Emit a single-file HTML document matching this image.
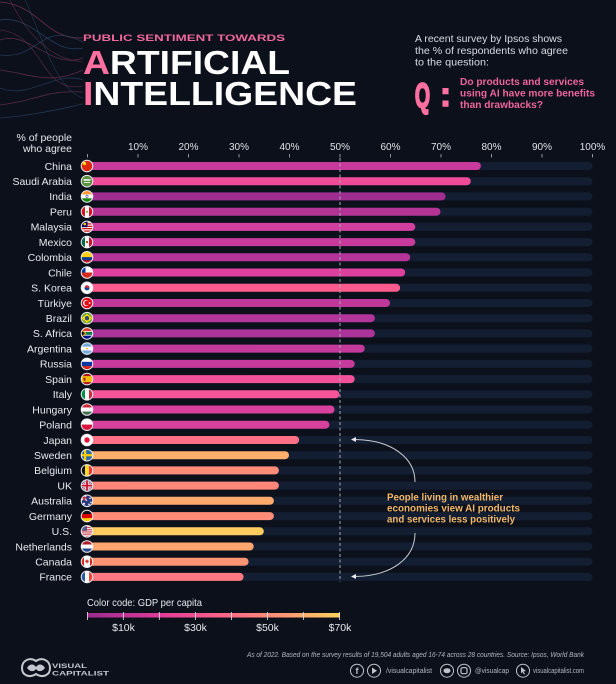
<!DOCTYPE html>
<html><head><meta charset="utf-8"><style>
html,body{margin:0;padding:0;background:#0b101b;}
svg{display:block;}
text{font-family:"Liberation Sans","DejaVu Sans",sans-serif;}
</style></head><body>
<svg width="616" height="684" viewBox="0 0 616 684" xmlns="http://www.w3.org/2000/svg">
<defs>
<clipPath id="fc"><circle cx="0" cy="0" r="5.7"/></clipPath>
<linearGradient id="gdp" x1="0" x2="1" y1="0" y2="0">
<stop offset="0" stop-color="#9a2a8e"/>
<stop offset="0.3" stop-color="#e23c98"/>
<stop offset="0.55" stop-color="#ff6688"/>
<stop offset="0.8" stop-color="#ff9c72"/>
<stop offset="1" stop-color="#ffd45c"/>
</linearGradient>
</defs>
<rect width="616" height="684" fill="#0b101b"/>

<!-- decorative curves -->
<g fill="none" stroke-width="0.8">
<path d="M0,2 C40,5 45,40 83,38" stroke="#a8456e" opacity="0.6"/>
<path d="M0,20 C35,15 50,55 83,48" stroke="#2d4569" opacity="0.8"/>
<path d="M0,40 C30,30 50,70 83,58" stroke="#a8456e" opacity="0.5"/>
<path d="M0,55 C40,60 40,20 83,42" stroke="#2d4569" opacity="0.7"/>
<path d="M0,70 C35,75 50,85 83,70" stroke="#a8456e" opacity="0.5"/>
<path d="M0,88 C30,100 55,70 83,80" stroke="#2d4569" opacity="0.7"/>
<path d="M0,105 C40,100 45,90 83,92" stroke="#a8456e" opacity="0.5"/>
<path d="M0,118 C35,115 55,110 83,104" stroke="#2d4569" opacity="0.7"/>
<path d="M10,0 C30,40 55,60 83,62" stroke="#a8456e" opacity="0.4"/>
<path d="M25,0 C40,30 55,90 83,98" stroke="#2d4569" opacity="0.6"/>
<path d="M0,30 C45,35 40,95 83,86" stroke="#a8456e" opacity="0.4"/>
</g>

<!-- title -->
<text x="83" y="41" font-size="9.5" font-weight="bold" fill="#f0689b" textLength="202" lengthAdjust="spacingAndGlyphs">PUBLIC SENTIMENT TOWARDS</text>
<text x="83" y="74" font-family="DejaVu Sans" font-size="33" font-weight="bold" fill="#ffffff" textLength="207" lengthAdjust="spacingAndGlyphs"><tspan fill="#ff6fa0">A</tspan>RTIFICIAL</text>
<text x="83" y="105" font-family="DejaVu Sans" font-size="33" font-weight="bold" fill="#ffffff" textLength="274" lengthAdjust="spacingAndGlyphs"><tspan fill="#ff6fa0">I</tspan>NTELLIGENCE</text>

<!-- header right -->
<g font-size="10.5" fill="#dadde3">
<text x="415" y="42" textLength="147" lengthAdjust="spacingAndGlyphs">A recent survey by Ipsos shows</text>
<text x="415" y="54" textLength="153" lengthAdjust="spacingAndGlyphs">the % of respondents who agree</text>
<text x="415" y="65.5" textLength="74" lengthAdjust="spacingAndGlyphs">to the question:</text>
</g>
<text x="415" y="107" font-size="34" font-weight="bold" fill="#ff6fa0" stroke="#ff6fa0" stroke-width="2.2" textLength="15" lengthAdjust="spacingAndGlyphs">Q</text>
<text x="440" y="106" font-size="34" font-weight="bold" fill="#ff6fa0" stroke="#ff6fa0" stroke-width="1.5" textLength="11" lengthAdjust="spacingAndGlyphs">:</text>
<g font-size="10" font-weight="bold" fill="#f0649b">
<text x="460" y="85" textLength="124" lengthAdjust="spacingAndGlyphs">Do products and services</text>
<text x="460" y="96.5" textLength="135" lengthAdjust="spacingAndGlyphs">using AI have more benefits</text>
<text x="460" y="108" textLength="83" lengthAdjust="spacingAndGlyphs">than drawbacks?</text>
</g>

<!-- axis header -->
<g font-size="10.5" fill="#e6e8ec" text-anchor="end">
<text x="72" y="141">% of people</text>
<text x="72" y="152">who agree</text>
</g>
<g font-size="10" fill="#dfe2e6" text-anchor="middle">
<text x="138" y="150">10%</text>
<text x="188.5" y="150">20%</text>
<text x="239" y="150">30%</text>
<text x="289.5" y="150">40%</text>
<text x="340" y="150">50%</text>
<text x="390.5" y="150">60%</text>
<text x="441" y="150">70%</text>
<text x="491.5" y="150">80%</text>
<text x="542" y="150">90%</text>
<text x="592.5" y="150">100%</text>
</g>
<g stroke="#8d939c" stroke-width="1">
<line x1="87.5" y1="154" x2="87.5" y2="157.5"/>
<line x1="138" y1="154" x2="138" y2="157.5"/>
<line x1="188.5" y1="154" x2="188.5" y2="157.5"/>
<line x1="239" y1="154" x2="239" y2="157.5"/>
<line x1="289.5" y1="154" x2="289.5" y2="157.5"/>
<line x1="340" y1="154" x2="340" y2="157.5"/>
<line x1="390.5" y1="154" x2="390.5" y2="157.5"/>
<line x1="441" y1="154" x2="441" y2="157.5"/>
<line x1="491.5" y1="154" x2="491.5" y2="157.5"/>
<line x1="542" y1="154" x2="542" y2="157.5"/>
<line x1="592.5" y1="154" x2="592.5" y2="157.5"/>
</g>

<!-- rows -->
<g font-size="10.5" fill="#e8eaee" text-anchor="end">
<g transform="translate(0,166)"><text x="72" y="3.8">China</text><rect x="87" y="-4" width="505.5" height="8" rx="4" fill="#131e33"/><rect x="87" y="-4" width="393.9" height="8" rx="4" fill="#c9399b"/>
<g transform="translate(87,0)"><g clip-path="url(#fc)"><rect x="-6" y="-6" width="12" height="12" fill="#de2910"/><circle cx="-2.5" cy="-2.5" r="1.6" fill="#ffde00"/></g><circle r="5.8" fill="none" stroke="#eceef2" stroke-width="1"/></g></g>

<g transform="translate(0,181.2)"><text x="72" y="3.8">Saudi Arabia</text><rect x="87" y="-4" width="505.5" height="8" rx="4" fill="#131e33"/><rect x="87" y="-4" width="383.8" height="8" rx="4" fill="#f24a9b"/>
<g transform="translate(87,0)"><g clip-path="url(#fc)"><rect x="-6" y="-6" width="12" height="12" fill="#5a9240"/><rect x="-3.5" y="-2" width="7" height="1.5" fill="#fff"/><rect x="-3" y="1" width="6" height="0.8" fill="#fff"/></g><circle r="5.8" fill="none" stroke="#eceef2" stroke-width="1"/></g></g>

<g transform="translate(0,196.4)"><text x="72" y="3.8">India</text><rect x="87" y="-4" width="505.5" height="8" rx="4" fill="#131e33"/><rect x="87" y="-4" width="358.6" height="8" rx="4" fill="#a02d90"/>
<g transform="translate(87,0)"><g clip-path="url(#fc)"><rect x="-6" y="-6" width="12" height="4" fill="#ff9933"/><rect x="-6" y="-2" width="12" height="4" fill="#fff"/><rect x="-6" y="2" width="12" height="4" fill="#138808"/><circle r="1.2" fill="none" stroke="#000080" stroke-width="0.5"/></g><circle r="5.8" fill="none" stroke="#eceef2" stroke-width="1"/></g></g>

<g transform="translate(0,211.7)"><text x="72" y="3.8">Peru</text><rect x="87" y="-4" width="505.5" height="8" rx="4" fill="#131e33"/><rect x="87" y="-4" width="353.5" height="8" rx="4" fill="#b43495"/>
<g transform="translate(87,0)"><g clip-path="url(#fc)"><rect x="-6" y="-6" width="4" height="12" fill="#d91023"/><rect x="-2" y="-6" width="4" height="12" fill="#fff"/><rect x="2" y="-6" width="4" height="12" fill="#d91023"/><circle r="1" fill="#7a9a3a"/></g><circle r="5.8" fill="none" stroke="#eceef2" stroke-width="1"/></g></g>

<g transform="translate(0,226.9)"><text x="72" y="3.8">Malaysia</text><rect x="87" y="-4" width="505.5" height="8" rx="4" fill="#131e33"/><rect x="87" y="-4" width="328.3" height="8" rx="4" fill="#d23f9e"/>
<g transform="translate(87,0)"><g clip-path="url(#fc)"><rect x="-6" y="-6" width="12" height="12" fill="#fff"/><rect x="-6" y="-6" width="12" height="1.2" fill="#cc0001"/><rect x="-6" y="-3.6" width="12" height="1.2" fill="#cc0001"/><rect x="-6" y="-1.2" width="12" height="1.2" fill="#cc0001"/><rect x="-6" y="1.2" width="12" height="1.2" fill="#cc0001"/><rect x="-6" y="3.6" width="12" height="1.2" fill="#cc0001"/><rect x="-6" y="-6" width="6.5" height="6.3" fill="#010066"/><circle cx="-2.2" cy="-2.8" r="1.3" fill="#ffcc00"/></g><circle r="5.8" fill="none" stroke="#eceef2" stroke-width="1"/></g></g>

<g transform="translate(0,242.1)"><text x="72" y="3.8">Mexico</text><rect x="87" y="-4" width="505.5" height="8" rx="4" fill="#131e33"/><rect x="87" y="-4" width="328.3" height="8" rx="4" fill="#c83b9c"/>
<g transform="translate(87,0)"><g clip-path="url(#fc)"><rect x="-6" y="-6" width="4" height="12" fill="#006847"/><rect x="-2" y="-6" width="4" height="12" fill="#fff"/><rect x="2" y="-6" width="4" height="12" fill="#ce1126"/><circle r="1.2" fill="#8c5a2b"/></g><circle r="5.8" fill="none" stroke="#eceef2" stroke-width="1"/></g></g>

<g transform="translate(0,257.3)"><text x="72" y="3.8">Colombia</text><rect x="87" y="-4" width="505.5" height="8" rx="4" fill="#131e33"/><rect x="87" y="-4" width="323.2" height="8" rx="4" fill="#b5349a"/>
<g transform="translate(87,0)"><g clip-path="url(#fc)"><rect x="-6" y="-6" width="12" height="6" fill="#fcd116"/><rect x="-6" y="0" width="12" height="3" fill="#003893"/><rect x="-6" y="3" width="12" height="3" fill="#ce1126"/></g><circle r="5.8" fill="none" stroke="#eceef2" stroke-width="1"/></g></g>

<g transform="translate(0,272.5)"><text x="72" y="3.8">Chile</text><rect x="87" y="-4" width="505.5" height="8" rx="4" fill="#131e33"/><rect x="87" y="-4" width="318.2" height="8" rx="4" fill="#de409d"/>
<g transform="translate(87,0)"><g clip-path="url(#fc)"><rect x="-6" y="-6" width="12" height="6" fill="#fff"/><rect x="-6" y="0" width="12" height="6" fill="#d52b1e"/><rect x="-6" y="-6" width="4.5" height="6" fill="#0039a6"/></g><circle r="5.8" fill="none" stroke="#eceef2" stroke-width="1"/></g></g>

<g transform="translate(0,287.8)"><text x="72" y="3.8">S. Korea</text><rect x="87" y="-4" width="505.5" height="8" rx="4" fill="#131e33"/><rect x="87" y="-4" width="313.1" height="8" rx="4" fill="#ff5b8c"/>
<g transform="translate(87,0)"><g clip-path="url(#fc)"><rect x="-6" y="-6" width="12" height="12" fill="#fff"/><circle r="2.5" fill="#cd2e3a"/><path d="M-2.5,0 A2.5,2.5 0 0,0 2.5,0 Z" fill="#0047a0"/><rect x="-5" y="-4.5" width="1.5" height="1" fill="#000"/><rect x="3.5" y="3.5" width="1.5" height="1" fill="#000"/></g><circle r="5.8" fill="none" stroke="#eceef2" stroke-width="1"/></g></g>

<g transform="translate(0,303)"><text x="72" y="3.8">Türkiye</text><rect x="87" y="-4" width="505.5" height="8" rx="4" fill="#131e33"/><rect x="87" y="-4" width="303" height="8" rx="4" fill="#c0379a"/>
<g transform="translate(87,0)"><g clip-path="url(#fc)"><rect x="-6" y="-6" width="12" height="12" fill="#e30a17"/><circle cx="-1" r="3" fill="#fff"/><circle cx="-0.2" r="2.4" fill="#e30a17"/><circle cx="2.6" r="0.9" fill="#fff"/></g><circle r="5.8" fill="none" stroke="#eceef2" stroke-width="1"/></g></g>

<g transform="translate(0,318.2)"><text x="72" y="3.8">Brazil</text><rect x="87" y="-4" width="505.5" height="8" rx="4" fill="#131e33"/><rect x="87" y="-4" width="287.9" height="8" rx="4" fill="#b3349a"/>
<g transform="translate(87,0)"><g clip-path="url(#fc)"><rect x="-6" y="-6" width="12" height="12" fill="#6aa03a"/><polygon points="0,-4.5 5.5,0 0,4.5 -5.5,0" fill="#ffdf00"/><circle r="2.2" fill="#2a4a8a"/></g><circle r="5.8" fill="none" stroke="#eceef2" stroke-width="1"/></g></g>

<g transform="translate(0,333.4)"><text x="72" y="3.8">S. Africa</text><rect x="87" y="-4" width="505.5" height="8" rx="4" fill="#131e33"/><rect x="87" y="-4" width="287.9" height="8" rx="4" fill="#ac3399"/>
<g transform="translate(87,0)"><g clip-path="url(#fc)"><rect x="-6" y="-6" width="12" height="6" fill="#e03c31"/><rect x="-6" y="0" width="12" height="6" fill="#001489"/><rect x="-6" y="-2.2" width="12" height="4.4" fill="#fff"/><rect x="-6" y="-1.4" width="12" height="2.8" fill="#007a4d"/><polygon points="-6,-4.5 -0.5,0 -6,4.5" fill="#ffb612"/><polygon points="-6,-3.2 -2,0 -6,3.2" fill="#000"/></g><circle r="5.8" fill="none" stroke="#eceef2" stroke-width="1"/></g></g>

<g transform="translate(0,348.6)"><text x="72" y="3.8">Argentina</text><rect x="87" y="-4" width="505.5" height="8" rx="4" fill="#131e33"/><rect x="87" y="-4" width="277.8" height="8" rx="4" fill="#c33a9b"/>
<g transform="translate(87,0)"><g clip-path="url(#fc)"><rect x="-6" y="-6" width="12" height="4" fill="#74acdf"/><rect x="-6" y="-2" width="12" height="4" fill="#fff"/><rect x="-6" y="2" width="12" height="4" fill="#74acdf"/><circle r="0.9" fill="#f6b40e"/></g><circle r="5.8" fill="none" stroke="#eceef2" stroke-width="1"/></g></g>

<g transform="translate(0,363.9)"><text x="72" y="3.8">Russia</text><rect x="87" y="-4" width="505.5" height="8" rx="4" fill="#131e33"/><rect x="87" y="-4" width="267.7" height="8" rx="4" fill="#c63a9b"/>
<g transform="translate(87,0)"><g clip-path="url(#fc)"><rect x="-6" y="-6" width="12" height="4" fill="#fff"/><rect x="-6" y="-2" width="12" height="4" fill="#0039a6"/><rect x="-6" y="2" width="12" height="4" fill="#d52b1e"/></g><circle r="5.8" fill="none" stroke="#eceef2" stroke-width="1"/></g></g>

<g transform="translate(0,379.1)"><text x="72" y="3.8">Spain</text><rect x="87" y="-4" width="505.5" height="8" rx="4" fill="#131e33"/><rect x="87" y="-4" width="267.7" height="8" rx="4" fill="#f3519a"/>
<g transform="translate(87,0)"><g clip-path="url(#fc)"><rect x="-6" y="-6" width="12" height="12" fill="#aa151b"/><rect x="-6" y="-3" width="12" height="6" fill="#f1bf00"/><rect x="-3.5" y="-1.5" width="2" height="3" fill="#aa151b"/></g><circle r="5.8" fill="none" stroke="#eceef2" stroke-width="1"/></g></g>

<g transform="translate(0,394.3)"><text x="72" y="3.8">Italy</text><rect x="87" y="-4" width="505.5" height="8" rx="4" fill="#131e33"/><rect x="87" y="-4" width="252.5" height="8" rx="4" fill="#f7549a"/>
<g transform="translate(87,0)"><g clip-path="url(#fc)"><rect x="-6" y="-6" width="4" height="12" fill="#009246"/><rect x="-2" y="-6" width="4" height="12" fill="#fff"/><rect x="2" y="-6" width="4" height="12" fill="#ce2b37"/></g><circle r="5.8" fill="none" stroke="#eceef2" stroke-width="1"/></g></g>

<g transform="translate(0,409.5)"><text x="72" y="3.8">Hungary</text><rect x="87" y="-4" width="505.5" height="8" rx="4" fill="#131e33"/><rect x="87" y="-4" width="247.5" height="8" rx="4" fill="#d8409d"/>
<g transform="translate(87,0)"><g clip-path="url(#fc)"><rect x="-6" y="-6" width="12" height="4" fill="#ce2939"/><rect x="-6" y="-2" width="12" height="4" fill="#fff"/><rect x="-6" y="2" width="12" height="4" fill="#477050"/></g><circle r="5.8" fill="none" stroke="#eceef2" stroke-width="1"/></g></g>

<g transform="translate(0,424.7)"><text x="72" y="3.8">Poland</text><rect x="87" y="-4" width="505.5" height="8" rx="4" fill="#131e33"/><rect x="87" y="-4" width="242.4" height="8" rx="4" fill="#d9409d"/>
<g transform="translate(87,0)"><g clip-path="url(#fc)"><rect x="-6" y="-6" width="12" height="6" fill="#fff"/><rect x="-6" y="0" width="12" height="6" fill="#dc143c"/></g><circle r="5.8" fill="none" stroke="#eceef2" stroke-width="1"/></g></g>

<g transform="translate(0,440)"><text x="72" y="3.8">Japan</text><rect x="87" y="-4" width="505.5" height="8" rx="4" fill="#131e33"/><rect x="87" y="-4" width="212.1" height="8" rx="4" fill="#ff6f86"/>
<g transform="translate(87,0)"><g clip-path="url(#fc)"><rect x="-6" y="-6" width="12" height="12" fill="#fff"/><circle r="2.7" fill="#e8103c"/></g><circle r="5.8" fill="none" stroke="#eceef2" stroke-width="1"/></g></g>

<g transform="translate(0,455.2)"><text x="72" y="3.8">Sweden</text><rect x="87" y="-4" width="505.5" height="8" rx="4" fill="#131e33"/><rect x="87" y="-4" width="202" height="8" rx="4" fill="#ffae6c"/>
<g transform="translate(87,0)"><g clip-path="url(#fc)"><rect x="-6" y="-6" width="12" height="12" fill="#2a6aa7"/><rect x="-3" y="-6" width="2.2" height="12" fill="#fecc00"/><rect x="-6" y="-1.1" width="12" height="2.2" fill="#fecc00"/></g><circle r="5.8" fill="none" stroke="#eceef2" stroke-width="1"/></g></g>

<g transform="translate(0,470.4)"><text x="72" y="3.8">Belgium</text><rect x="87" y="-4" width="505.5" height="8" rx="4" fill="#131e33"/><rect x="87" y="-4" width="191.9" height="8" rx="4" fill="#ff8c78"/>
<g transform="translate(87,0)"><g clip-path="url(#fc)"><rect x="-6" y="-6" width="4" height="12" fill="#111"/><rect x="-2" y="-6" width="4" height="12" fill="#fdda24"/><rect x="2" y="-6" width="4" height="12" fill="#ef3340"/></g><circle r="5.8" fill="none" stroke="#eceef2" stroke-width="1"/></g></g>

<g transform="translate(0,485.6)"><text x="72" y="3.8">UK</text><rect x="87" y="-4" width="505.5" height="8" rx="4" fill="#131e33"/><rect x="87" y="-4" width="191.9" height="8" rx="4" fill="#ff8679"/>
<g transform="translate(87,0)"><g clip-path="url(#fc)"><rect x="-6" y="-6" width="12" height="12" fill="#2a3a80"/><line x1="-6" y1="-6" x2="6" y2="6" stroke="#fff" stroke-width="2.2"/><line x1="-6" y1="6" x2="6" y2="-6" stroke="#fff" stroke-width="2.2"/><line x1="-6" y1="-6" x2="6" y2="6" stroke="#c8102e" stroke-width="0.8"/><line x1="-6" y1="6" x2="6" y2="-6" stroke="#c8102e" stroke-width="0.8"/><rect x="-1.6" y="-6" width="3.2" height="12" fill="#fff"/><rect x="-6" y="-1.6" width="12" height="3.2" fill="#fff"/><rect x="-0.9" y="-6" width="1.8" height="12" fill="#c8102e"/><rect x="-6" y="-0.9" width="12" height="1.8" fill="#c8102e"/></g><circle r="5.8" fill="none" stroke="#eceef2" stroke-width="1"/></g></g>

<g transform="translate(0,500.8)"><text x="72" y="3.8">Australia</text><rect x="87" y="-4" width="505.5" height="8" rx="4" fill="#131e33"/><rect x="87" y="-4" width="186.9" height="8" rx="4" fill="#ffa96d"/>
<g transform="translate(87,0)"><g clip-path="url(#fc)"><rect x="-6" y="-6" width="12" height="12" fill="#2a3a80"/><rect x="-6" y="-6" width="6" height="6" fill="#3c4a8a"/><line x1="-6" y1="-6" x2="0" y2="0" stroke="#fff" stroke-width="1"/><line x1="-6" y1="0" x2="0" y2="-6" stroke="#fff" stroke-width="1"/><rect x="-3.6" y="-6" width="1.2" height="6" fill="#c8102e"/><rect x="-6" y="-3.6" width="6" height="1.2" fill="#c8102e"/><circle cx="3" cy="-2.5" r="0.8" fill="#fff"/><circle cx="4" cy="1.5" r="0.8" fill="#fff"/><circle cx="2" cy="3.5" r="0.8" fill="#fff"/><circle cx="-3" cy="3" r="1" fill="#fff"/></g><circle r="5.8" fill="none" stroke="#eceef2" stroke-width="1"/></g></g>

<g transform="translate(0,516.1)"><text x="72" y="3.8">Germany</text><rect x="87" y="-4" width="505.5" height="8" rx="4" fill="#131e33"/><rect x="87" y="-4" width="186.9" height="8" rx="4" fill="#ff8c78"/>
<g transform="translate(87,0)"><g clip-path="url(#fc)"><rect x="-6" y="-6" width="12" height="4" fill="#111"/><rect x="-6" y="-2" width="12" height="4" fill="#dd0000"/><rect x="-6" y="2" width="12" height="4" fill="#ffce00"/></g><circle r="5.8" fill="none" stroke="#eceef2" stroke-width="1"/></g></g>

<g transform="translate(0,531.3)"><text x="72" y="3.8">U.S.</text><rect x="87" y="-4" width="505.5" height="8" rx="4" fill="#131e33"/><rect x="87" y="-4" width="176.8" height="8" rx="4" fill="#ffcc5f"/>
<g transform="translate(87,0)"><g clip-path="url(#fc)"><rect x="-6" y="-6" width="12" height="12" fill="#f2f2f2"/><rect x="-6" y="-6" width="12" height="0.9" fill="#d23a4a"/><rect x="-6" y="-4.2" width="12" height="0.9" fill="#d23a4a"/><rect x="-6" y="-2.4" width="12" height="0.9" fill="#d23a4a"/><rect x="-6" y="-0.6" width="12" height="0.9" fill="#d23a4a"/><rect x="-6" y="1.2" width="12" height="0.9" fill="#d23a4a"/><rect x="-6" y="3" width="12" height="0.9" fill="#d23a4a"/><rect x="-6" y="4.8" width="12" height="0.9" fill="#d23a4a"/><rect x="-6" y="-6" width="6" height="5.5" fill="#5a5a8a"/></g><circle r="5.8" fill="none" stroke="#eceef2" stroke-width="1"/></g></g>

<g transform="translate(0,546.5)"><text x="72" y="3.8">Netherlands</text><rect x="87" y="-4" width="505.5" height="8" rx="4" fill="#131e33"/><rect x="87" y="-4" width="166.7" height="8" rx="4" fill="#ffa570"/>
<g transform="translate(87,0)"><g clip-path="url(#fc)"><rect x="-6" y="-6" width="12" height="4" fill="#ae1c28"/><rect x="-6" y="-2" width="12" height="4" fill="#fff"/><rect x="-6" y="2" width="12" height="4" fill="#21468b"/></g><circle r="5.8" fill="none" stroke="#eceef2" stroke-width="1"/></g></g>

<g transform="translate(0,561.7)"><text x="72" y="3.8">Canada</text><rect x="87" y="-4" width="505.5" height="8" rx="4" fill="#131e33"/><rect x="87" y="-4" width="161.6" height="8" rx="4" fill="#ff9474"/>
<g transform="translate(87,0)"><g clip-path="url(#fc)"><rect x="-6" y="-6" width="12" height="12" fill="#fff"/><rect x="-6" y="-6" width="3" height="12" fill="#d52b1e"/><rect x="3" y="-6" width="3" height="12" fill="#d52b1e"/><polygon points="0,-2.6 1,-1 2,-1.3 1.4,0.8 0.4,0.6 0.4,2 -0.4,2 -0.4,0.6 -1.4,0.8 -2,-1.3 -1,-1" fill="#d52b1e"/></g><circle r="5.8" fill="none" stroke="#eceef2" stroke-width="1"/></g></g>

<g transform="translate(0,576.9)"><text x="72" y="3.8">France</text><rect x="87" y="-4" width="505.5" height="8" rx="4" fill="#131e33"/><rect x="87" y="-4" width="156.6" height="8" rx="4" fill="#ff7882"/>
<g transform="translate(87,0)"><g clip-path="url(#fc)"><rect x="-6" y="-6" width="4" height="12" fill="#2a5aa4"/><rect x="-2" y="-6" width="4" height="12" fill="#fff"/><rect x="2" y="-6" width="4" height="12" fill="#ef4135"/></g><circle r="5.8" fill="none" stroke="#eceef2" stroke-width="1"/></g></g>
</g>

<!-- 50% dashed line -->
<line x1="340" y1="158" x2="340" y2="582" stroke="#a6abb3" stroke-width="1" stroke-dasharray="3,2.5"/>

<!-- annotation -->
<g fill="none" stroke="#c6cad0" stroke-width="1">
<path d="M415,482 C415,458 392,440 355,439.5"/>
<path d="M415,533 C415,558 392,576 355,576.5"/>
</g>
<polygon points="351,439.5 356,437 356,442" fill="#e6e8ec"/>
<polygon points="351,576.5 356,574 356,579" fill="#e6e8ec"/>
<g font-size="10" font-weight="bold" fill="#f2b766">
<text x="387" y="500.5" textLength="116" lengthAdjust="spacingAndGlyphs">People living in wealthier</text>
<text x="387" y="511.5" textLength="133" lengthAdjust="spacingAndGlyphs">economies view AI products</text>
<text x="387" y="522.5" textLength="128" lengthAdjust="spacingAndGlyphs">and services less positively</text>
</g>

<!-- legend -->
<text x="87" y="606" font-size="10.5" fill="#e6e8ec" textLength="115" lengthAdjust="spacingAndGlyphs">Color code: GDP per capita</text>
<rect x="87" y="613" width="253" height="4.5" fill="url(#gdp)"/>
<g stroke="#e4e6ea" stroke-width="0.8">
<line x1="87.5" y1="612" x2="87.5" y2="620"/>
<line x1="123.3" y1="612" x2="123.3" y2="620"/>
<line x1="159.3" y1="612" x2="159.3" y2="620"/>
<line x1="195.5" y1="612" x2="195.5" y2="620"/>
<line x1="231.5" y1="612" x2="231.5" y2="620"/>
<line x1="267.5" y1="612" x2="267.5" y2="620"/>
<line x1="303.5" y1="612" x2="303.5" y2="620"/>
<line x1="339.5" y1="612" x2="339.5" y2="620"/>
</g>
<g font-size="10.5" fill="#e6e8ec" text-anchor="middle">
<text x="123.5" y="631">$10k</text>
<text x="195.5" y="631">$30k</text>
<text x="267.5" y="631">$50k</text>
<text x="340" y="631">$70k</text>
</g>

<!-- footer logo -->
<g fill="#c4c8ce">
<path d="M22,668 C22,660 30,657 36,661 C42,657 50,660 50,668 C50,676 42,678 36,674 C30,678 22,676 22,668 Z" fill="none" stroke="#c4c8ce" stroke-width="2"/>
<path d="M27,668 C30,663 34,664 36,667 C38,664 42,663 45,668 C42,672 38,672 36,669 C34,672 30,672 27,668 Z"/>
<text x="52" y="668" font-size="6.5" font-weight="bold" textLength="35" lengthAdjust="spacingAndGlyphs">VISUAL</text>
<text x="52" y="675.5" font-size="6.5" font-weight="bold" textLength="57" lengthAdjust="spacingAndGlyphs">CAPITALIST</text>
</g>

<!-- footer text -->
<text x="247" y="657" font-size="7" font-style="italic" fill="#b4b8c0" textLength="337" lengthAdjust="spacingAndGlyphs">As of 2022. Based on the survey results of 19,504 adults aged 16-74 across 28 countries. Source: Ipsos, World Bank</text>
<g fill="none" stroke="#c0c4ca" stroke-width="1">
<circle cx="357" cy="670.7" r="6.5"/>
<circle cx="374" cy="670.7" r="6.5"/>
<circle cx="447" cy="670.7" r="6.5"/>
<circle cx="464" cy="670.7" r="6.5"/>
<circle cx="523" cy="670.7" r="6.5"/>
</g>
<text x="357" y="674" font-size="9" font-weight="bold" fill="#c0c4ca" text-anchor="middle">f</text>
<polygon points="372,667.5 377,670.7 372,674" fill="#c0c4ca"/>
<ellipse cx="447" cy="670.7" rx="3.5" ry="2.5" fill="#c0c4ca"/>
<rect x="461" y="667.7" width="6" height="6" rx="1.5" fill="none" stroke="#c0c4ca" stroke-width="1.2"/>
<polygon points="521,667 526,671 523.5,671.5 525,674 524,674.5 522.5,672 521,673.5" fill="#c0c4ca"/>
<g font-size="7" fill="#b4b8c0">
<text x="386" y="673" textLength="46" lengthAdjust="spacingAndGlyphs">/visualcapitalist</text>
<text x="475" y="673" textLength="34" lengthAdjust="spacingAndGlyphs">@visualcap</text>
<text x="533" y="673" textLength="51" lengthAdjust="spacingAndGlyphs">visualcapitalist.com</text>
</g>
</svg>
</body></html>
